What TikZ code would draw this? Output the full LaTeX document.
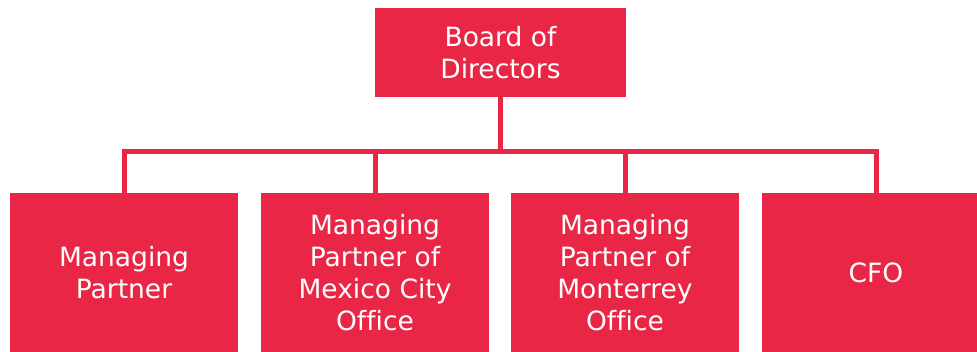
\documentclass[tikz,border=0pt]{standalone}
\usepackage{fontspec}
\setmainfont[Ligatures=NoCommon]{DejaVu Sans}
\definecolor{boxred}{RGB}{234,38,70}
\begin{document}
\begin{tikzpicture}[x=1pt,y=-1pt,
  box/.style={fill=boxred,draw=none,text=white,align=center,inner sep=0pt,
    font=\fontsize{26.5}{32}\selectfont},
  conn/.style={draw=boxred,line width=5pt}]
\useasboundingbox (0,0) rectangle (977,352);
\clip (0,0) rectangle (977,352);
\node[box,minimum width=251pt,minimum height=89pt] (top) at (500.5,52.5) {Board of\\Directors};
\node[box,minimum width=228pt,minimum height=159pt] (b1) at (124,272.5) {Managing\\Partner};
\node[box,minimum width=228pt,minimum height=159pt] (b2) at (375,272.5) {Managing\\Partner of\\Mexico City\\Office};
\node[box,minimum width=228pt,minimum height=159pt] (b3) at (625,272.5) {Managing\\Partner of\\Monterrey\\Office};
\node[box,minimum width=228pt,minimum height=159pt] (b4) at (876,272.5) {CFO};
\coordinate (bus) at (500.5,152);
\draw[conn] (top.south) -- (bus);
\draw[conn] (b1.north) |- (bus) -| (b4.north);
\draw[conn] (b2.north) -- (b2.north |- bus);
\draw[conn] (b3.north) -- (b3.north |- bus);
\end{tikzpicture}
\end{document}
